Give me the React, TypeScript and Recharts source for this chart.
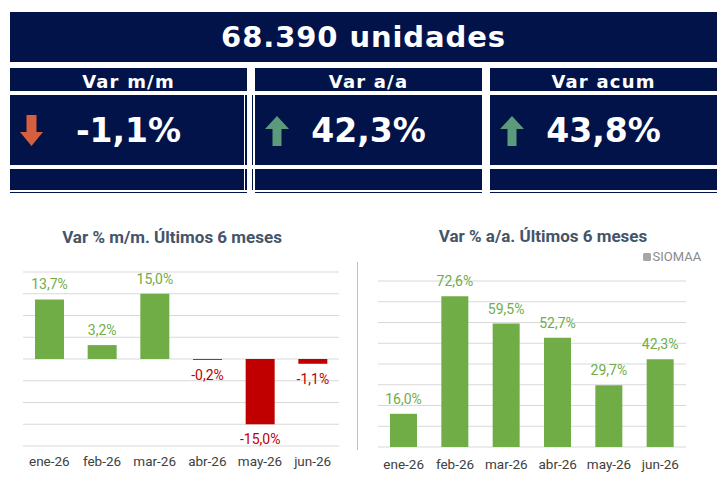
import React from "react";
import { BarChart, Bar, XAxis, YAxis, ReferenceLine, Cell, LabelList } from "recharts";

// datos del informe
const totalUnidades = 68390;
const kpiTitulos = ["Var m/m", "Var a/a", "Var acum"];
const kpiValores = [-1.1, 42.3, 43.8];

const meses = ["ene-26", "feb-26", "mar-26", "abr-26", "may-26", "jun-26"];
const varMensual = [13.7, 3.2, 15.0, -0.2, -15.0, -1.1];
const varInteranual = [16.0, 72.6, 59.5, 52.7, 29.7, 42.3];
const ticksMensual = [-20, -15, -10, -5, 0, 5, 10, 15, 20];
const ticksInteranual = [0, 10, 20, 30, 40, 50, 60, 70, 80];

const NAVY = "#021349";
const VERDE = "#70ad47";
const ROJO = "#c00000";
const TITULO = "#44546a";
const GRILLA = "#d9d9d9";

const kpiBoxes = [
  { left: 10, width: 237 },
  { left: 255, width: 227 },
  { left: 490, width: 227 },
];

const fmtPct = (v: number) => v.toFixed(1).replace(".", ",") + "%";
const fmtMiles = (v: number) => v.toLocaleString("de-DE");

const dataMensual = meses.map((m, i) => ({ mes: m, valor: varMensual[i] }));
const dataInteranual = meses.map((m, i) => ({ mes: m, valor: varInteranual[i] }));

const Flecha = ({ up }: { up: boolean }) =>
  up ? (
    <svg width={24} height={30} viewBox="0 0 24 30">
      <polygon points="12,0 24,13 16.5,13 16.5,30 7.5,30 7.5,13 0,13" fill="#5b9b7c" />
    </svg>
  ) : (
    <svg width={23} height={31} viewBox="0 0 23 31">
      <polygon points="6.5,0 16.5,0 16.5,17 23,17 11.5,31 0,17 6.5,17" fill="#d65f3e" />
    </svg>
  );

const ValorLabel = (props: any) => {
  const { x, y, width, height, value } = props;
  const top = Math.min(y, y + height);
  const bottom = Math.max(y, y + height);
  const pos = value >= 0;
  return (
    <text
      x={x + width / 2}
      y={pos ? top - 10 : bottom + 20}
      textAnchor="middle"
      fontSize={14}
      fontFamily="Roboto"
      fill={pos ? VERDE : ROJO}
    >
      {fmtPct(value)}
    </text>
  );
};

const tickStyle = { fontSize: 13.5, fill: "#404040", fontFamily: "Roboto" };

export default function App() {
  return (
    <div
      style={{
        position: "absolute",
        left: 0,
        top: 0,
        width: 724,
        height: 480,
        background: "#fff",
        overflow: "hidden",
        fontFamily: "'DejaVu Sans', sans-serif",
      }}
    >
      {/* cabecera */}
      <div
        style={{
          position: "absolute",
          left: 10,
          top: 12,
          width: 707,
          height: 50,
          background: NAVY,
          color: "#fff",
          display: "flex",
          alignItems: "center",
          justifyContent: "center",
          fontWeight: "bold",
          fontSize: 29,
          letterSpacing: 0.9,
        }}
      >
        {fmtMiles(totalUnidades)} unidades
      </div>

      {kpiBoxes.map((b, i) => (
        <React.Fragment key={i}>
          <div
            style={{
              position: "absolute",
              left: b.left,
              top: 68,
              width: b.width,
              height: 23,
              background: NAVY,
              color: "#fff",
              textAlign: "center",
              fontWeight: "bold",
              fontSize: 18,
              letterSpacing: 1.2,
              lineHeight: "23px",
              paddingTop: 2,
              boxSizing: "border-box",
            }}
          >
            {kpiTitulos[i]}
          </div>
          <div
            style={{
              position: "absolute",
              left: b.left,
              top: 95,
              width: b.width,
              height: 70,
              background: NAVY,
              color: "#fff",
              display: "flex",
              alignItems: "center",
              justifyContent: "center",
              fontWeight: "bold",
              fontSize: 33,
            }}
          >
            <div style={{ position: "absolute", left: 10, top: 20, height: 31 }}>
              <Flecha up={kpiValores[i] >= 0} />
            </div>
            {fmtPct(kpiValores[i])}
          </div>
          <div
            style={{
              position: "absolute",
              left: b.left,
              top: 169,
              width: b.width,
              height: 21,
              background: NAVY,
            }}
          />
          <div
            style={{
              position: "absolute",
              left: b.left,
              top: 192,
              width: b.width,
              height: 1,
              background: NAVY,
            }}
          />
        </React.Fragment>
      ))}
      {/* doble línea entre la primera y la segunda caja */}
      <div style={{ position: "absolute", left: 244, top: 95, width: 1, height: 70, background: "#fff" }} />
      <div style={{ position: "absolute", left: 244, top: 169, width: 1, height: 21, background: "#fff" }} />
      <div style={{ position: "absolute", left: 252, top: 95, width: 1, height: 70, background: NAVY }} />
      <div style={{ position: "absolute", left: 252, top: 169, width: 1, height: 21, background: NAVY }} />

      {/* títulos de los gráficos */}
      <div
        style={{
          position: "absolute",
          left: 22,
          top: 229,
          width: 300,
          textAlign: "center",
          fontFamily: "Roboto",
          fontWeight: "bold",
          fontSize: 17,
          lineHeight: "17px",
          color: TITULO,
        }}
      >
        Var % m/m. Últimos 6 meses
      </div>
      <div
        style={{
          position: "absolute",
          left: 393,
          top: 227.5,
          width: 300,
          textAlign: "center",
          fontFamily: "Roboto",
          fontWeight: "bold",
          fontSize: 17,
          lineHeight: "17px",
          color: TITULO,
        }}
      >
        Var % a/a. Últimos 6 meses
      </div>
      <div
        style={{
          position: "absolute",
          left: 643,
          top: 250,
          display: "flex",
          alignItems: "center",
          fontFamily: "Roboto",
          fontSize: 13,
          lineHeight: "13px",
          color: "#8a8a8a",
        }}
      >
        <span
          style={{
            display: "inline-block",
            width: 8,
            height: 8,
            borderRadius: 1.5,
            background: "#a6a6a6",
            marginRight: 1.5,
          }}
        />
        SIOMAA
      </div>

      {/* separador */}
      <div style={{ position: "absolute", left: 357, top: 262, width: 1, height: 188, background: "#bfbfbf" }} />

      <div style={{ position: "absolute", left: 0, top: 220 }}>
        <BarChart
          width={360}
          height={260}
          data={dataMensual}
          margin={{ top: 52, right: 21, left: 23, bottom: 4 }}
        >
          <YAxis hide domain={[-20, 20]} ticks={ticksMensual} />
          <XAxis
            dataKey="mes"
            interval={0}
            axisLine={false}
            tickLine={false}
            height={30}
            tickMargin={4}
            tick={tickStyle}
          />
          {ticksMensual.map((t) => (
            <ReferenceLine key={t} y={t} stroke={GRILLA} zIndex={-100} />
          ))}
          <Bar dataKey="valor" barSize={29} isAnimationActive={false}>
            {dataMensual.map((d, i) => (
              <Cell key={i} fill={d.valor >= 0 ? VERDE : ROJO} />
            ))}
            <LabelList dataKey="valor" content={ValorLabel} />
          </Bar>
        </BarChart>
      </div>

      <div style={{ position: "absolute", left: 360, top: 220 }}>
        <BarChart
          width={364}
          height={260}
          data={dataInteranual}
          margin={{ top: 61, right: 38, left: 18, bottom: 3 }}
        >
          <YAxis hide domain={[0, 80]} ticks={ticksInteranual} />
          <XAxis
            dataKey="mes"
            interval={0}
            axisLine={false}
            tickLine={false}
            height={30}
            tickMargin={6}
            tick={tickStyle}
          />
          {ticksInteranual.map((t) => (
            <ReferenceLine key={t} y={t} stroke={GRILLA} zIndex={-100} />
          ))}
          <Bar dataKey="valor" barSize={27} fill={VERDE} isAnimationActive={false}>
            <LabelList dataKey="valor" content={ValorLabel} />
          </Bar>
        </BarChart>
      </div>
    </div>
  );
}
